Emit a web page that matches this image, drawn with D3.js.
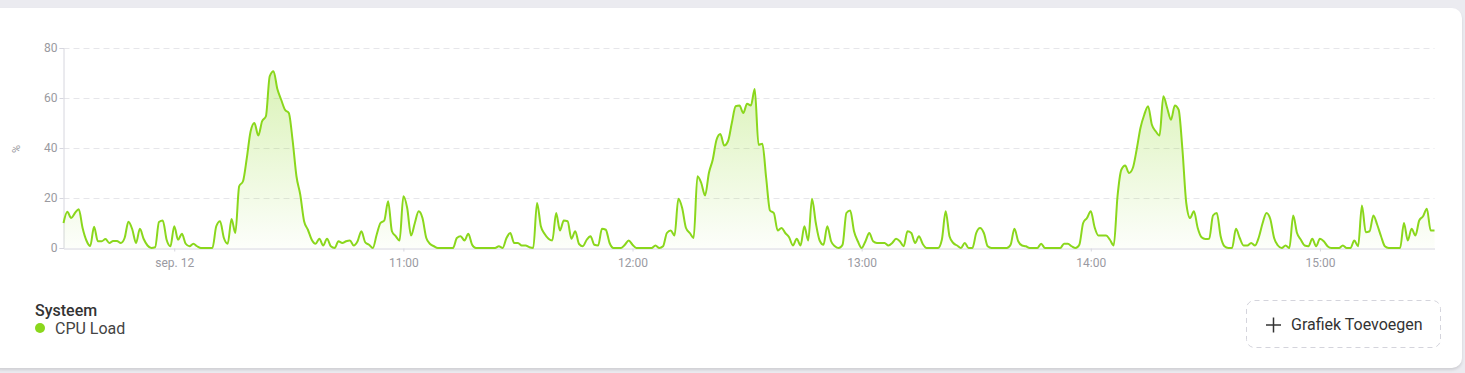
<!DOCTYPE html>
<html>
<head>
<meta charset="utf-8">
<script src="https://cdn.jsdelivr.net/npm/d3@7"></script>
<style>
  html, body { margin:0; padding:0; background:#ebebf0; font-family:Roboto, "Open Sans", sans-serif; }
  #kaart { position:absolute; left:-10px; top:8px; width:1472px; height:360px; background:#fff;
           border-radius:10px; box-shadow:0 2px 3px rgba(0,0,0,0.12); }
  svg { position:absolute; left:0; top:0; }
</style>
</head>
<body>
<div id="kaart"></div>
<svg id="grafiek" width="1465" height="373"></svg>
<script>
// cpu load per minuut, vanaf 09:31 tot 15:30
var startTijd = new Date(2024, 8, 12, 9, 31);
var cpuWaarden = [
 10,14.5,12,14,15.5,8,3,0.8,8.5,2.7, 2.7,3.6,2,2.8,2.8,2,4,10.5,7.5,2,
 7.7,3.6,1,0,0.3,10.4,11,3.3,0.7,8.7, 3.3,5.7,1.7,0.7,1.7,0.7,0,0,0,0,
 8.7,10.7,4,1.7,11.6,6,24.7,26.7,36,46.7, 50,45,50.7,52.7,68.7,70.7,63.6,59.3,55.3,54,
 43,28.7,21.3,10.7,7.3,3.3,1.7,3.7,1,3.7, 0.7,0,2.7,2,2.7,3,1,2.7,6.7,2.3,
 1.3,0,5.3,10,11,18.7,6.7,4.7,3,20.7, 16,5,10,14.7,12,4,1.6,0.7,0,0,
 0,0,0,4,4.7,3,5.7,1.3,0,0, 0,0,0,0,0.7,0,4,6,2,2,
 1,1,0.3,0,18,8.7,5.6,3.7,3,14, 7,11,10.7,3.7,6.7,1.6,0.7,3.3,4.7,1.3,
 1,7.7,7.3,2,0,0,0,1.3,3,1.3, 0,0,0,0,0,1,0,0.7,6,7,
 5,19.7,16,8,6,4,28.7,26,21,30, 35.3,43.3,45.6,41,42.7,50,56.7,57,54,57.7,
 57,63.6,41.3,41.7,28,15,14,7,8,6, 4.3,1,3.7,1,8.7,3,19.7,10,3,1.3,
 8.7,2.7,0.7,0,1.3,14,15,6.7,2.7,0, 2.7,6,2.7,2,2,2,1,2,3.7,2.7,
 0.7,6.7,6,2,4.7,1.6,0,0,0,0, 3.3,14.7,4.7,2,1,0,2,0,0,6,
 8,6,0.7,0,0,0,0,0,1.3,7.7, 2.7,1,0.7,0,0,0,1.7,0,0,0,
 0,0,1.7,1.7,0.7,0,1.3,10,12,14.7, 8.3,5,5,5,3.3,1,20.7,31.3,33,30,
 32,39.3,48,53.3,56.7,49.3,46.7,45,60.7,56, 51.3,57,55.3,39.3,18,12,14.7,8,4.3,3.6,
 3.7,13,14,4.7,0.7,0,0,7.7,4,1, 1,2,1,4.3,10,14,11.6,4,1,0,
 1,0,13,6,3.3,1,0.7,3.7,0.7,3.7, 2.7,0.7,0,0,0,1,0,0,3,0.7,
 17,6.3,6.7,13,9.3,4.7,0.7,0,0,0, 0,10,3,7.7,5,11,12.7,15.7,7,7
];
var yTicks = [0, 20, 40, 60, 80];
var xTickUren = [10, 11, 12, 13, 14, 15];
var xTickLabels = ["sep. 12", "11:00", "12:00", "13:00", "14:00", "15:00"];
var legendaGroep = "Systeem";
var legendaSerie = "CPU Load";
var knopTekst = "Grafiek Toevoegen";

var punten = cpuWaarden.map(function(v, i){
  return { tijd: new Date(startTijd.getTime() + i*60000), waarde: v };
});

var links = 63.5, rechts = 1434.5, boven = 48, onder = 248;
var groen = "#8ad71c";

var svg = d3.select("#grafiek");

var x = d3.scaleTime()
  .domain([punten[0].tijd, punten[punten.length-1].tijd])
  .range([links, rechts]);
var y = d3.scaleLinear().domain([0, 80]).range([onder, boven]);

var defs = svg.append("defs");
var grad = defs.append("linearGradient").attr("id","vulling")
  .attr("x1",0).attr("y1",0).attr("x2",0).attr("y2",1);
grad.append("stop").attr("offset","0%").attr("stop-color",groen).attr("stop-opacity",0.32);
grad.append("stop").attr("offset","100%").attr("stop-color",groen).attr("stop-opacity",0.02);

// rasterlijnen
svg.append("g").selectAll("line").data(yTicks.filter(function(d){ return d>0; }))
  .enter().append("line")
  .attr("x1", links).attr("x2", rechts)
  .attr("y1", function(d){ return Math.round(y(d))+0.5; })
  .attr("y2", function(d){ return Math.round(y(d))+0.5; })
  .style("stroke","#e6e6ea").style("stroke-width",1).style("stroke-dasharray","6,4");

// y-as
var yAs = svg.append("g").attr("transform","translate("+links+",0)")
  .call(d3.axisLeft(y).tickValues(yTicks).tickSize(4).tickPadding(2));
yAs.select(".domain").style("stroke","#d6d6de");
yAs.selectAll(".tick line").style("stroke","#d6d6de");
yAs.selectAll("text").style("fill","#9a9aa0").style("font-size","12px").style("font-family","Roboto");

// x-as
var xAs = svg.append("g").attr("transform","translate(0,"+(onder+0.5)+")")
  .call(d3.axisBottom(x)
    .tickValues(xTickUren.map(function(u){ return new Date(2024, 8, 12, u, 0); }))
    .tickFormat(function(d, i){ return xTickLabels[i]; })
    .tickSize(3).tickPadding(7).tickSizeOuter(0));
xAs.select(".domain").style("stroke","#d6d6de");
xAs.selectAll(".tick line").style("stroke","#d6d6de");
xAs.selectAll("text").style("fill","#9a9aa2").style("font-size","12px").style("font-family","Roboto");

svg.append("text")
  .attr("transform","translate(20,149) rotate(-90)")
  .attr("text-anchor","middle")
  .style("font-size","11px").style("fill","#9a9aa0").style("font-family","Roboto")
  .text("%");

var vlak = d3.area()
  .x(function(d){ return x(d.tijd); })
  .y0(onder)
  .y1(function(d){ return y(d.waarde); })
  .curve(d3.curveMonotoneX);

var lijn = d3.line()
  .x(function(d){ return x(d.tijd); })
  .y(function(d){ return y(d.waarde); })
  .curve(d3.curveMonotoneX);

svg.append("path").datum(punten).attr("d", vlak).style("fill","url(#vulling)");
svg.append("path").datum(punten).attr("d", lijn)
  .style("fill","none").style("stroke",groen).style("stroke-width",2)
  .style("stroke-linejoin","round");

// legenda
svg.append("text").attr("x",35).attr("y",316)
  .style("font-size","16px").style("font-weight","500").style("fill","#333")
  .style("font-family","Roboto").text(legendaGroep);
svg.append("circle").attr("cx",40).attr("cy",328).attr("r",5).style("fill",groen);
svg.append("text").attr("x",55).attr("y",334)
  .style("font-size","16px").style("fill","#444")
  .style("font-family","Roboto").text(legendaSerie);

// knop
svg.append("rect").attr("x",1246.5).attr("y",300.5).attr("width",194).attr("height",47).attr("rx",8)
  .style("fill","none").style("stroke","#d4d4dc").style("stroke-dasharray","5,4");
svg.append("line").attr("x1",1266).attr("x2",1281).attr("y1",325).attr("y2",325)
  .style("stroke","#333").style("stroke-width",1.5);
svg.append("line").attr("x1",1273.5).attr("x2",1273.5).attr("y1",317.5).attr("y2",332.5)
  .style("stroke","#333").style("stroke-width",1.5);
svg.append("text").attr("x",1291).attr("y",330)
  .style("font-size","16px").style("fill","#333")
  .style("font-family","Roboto").text(knopTekst);
</script>
</body>
</html>
